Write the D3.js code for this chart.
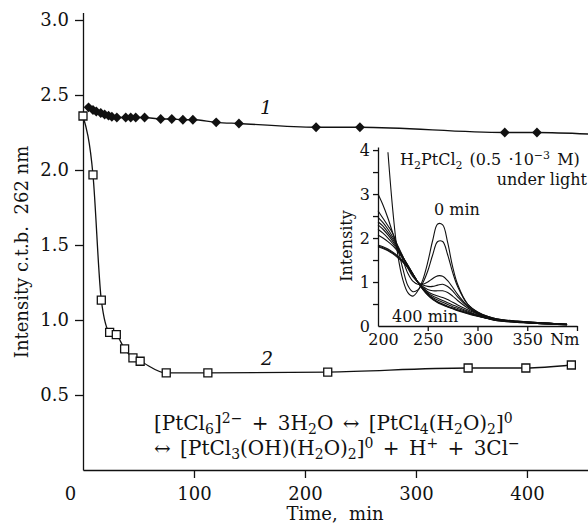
<!DOCTYPE html>
<meta charset="utf-8">
<style>
    body { margin: 0; background: #fff; }
    svg { display: block; }
    .line { fill: none; stroke: #111; stroke-width: 1.3px; }
    .spec { fill: none; stroke: #111; stroke-width: 1.1px; }
    text { font-family: "DejaVu Serif", serif; fill: #111; }
</style>
<body>
<script src="https://d3js.org/d3.v7.min.js"></script>
<script>
    // main chart: intensity at 262 nm vs time
    // series 1 (filled diamonds)
    var time1 = [5, 9, 12, 16, 19.5, 23, 26, 30.5, 38.5, 43, 47.5, 55.5, 70, 80, 90, 99, 120, 140.5, 210, 249.5, 380, 409];
    var val1 = [2.418, 2.40, 2.39, 2.38, 2.37, 2.362, 2.355, 2.35, 2.35, 2.35, 2.35, 2.35, 2.34, 2.34, 2.335, 2.335, 2.318, 2.31, 2.285, 2.285, 2.25, 2.25];
    var tail1 = [[455, 2.24]]; // line runs on to the end of the axis

    // series 2 (open squares)
    var time2 = [0, 9, 16.5, 24, 30, 37.5, 45, 51.5, 75, 112.5, 220.5, 347, 399, 440];
    var val2 = [2.36, 1.967, 1.133, 0.918, 0.902, 0.807, 0.747, 0.725, 0.647, 0.647, 0.653, 0.68, 0.68, 0.70];

    var xTicks = [0, 100, 200, 300, 400];
    var yTicks = [0.5, 1.0, 1.5, 2.0, 2.5, 3.0];

    // inset: spectra, wavelength grid (nm)
    var wl = [200, 205, 210, 215, 220, 225, 230, 235, 240, 245, 250, 255, 260, 265, 270, 275, 280, 290, 300, 310, 320, 340, 360, 390];
    var specA = [null, null, 3.95, 2.6, 1.6, 1.05, 0.76, 0.68, 0.8, 1.05, 1.45, 1.95, 2.32, 2.3, 1.9, 1.35, 0.95, 0.5, 0.32, 0.22, 0.16, 0.11, 0.08, 0.04];
    var specB = [3.0, 2.75, 2.45, 2.1, 1.75, 1.3, 0.92, 0.78, 0.82, 0.98, 1.25, 1.62, 1.92, 1.92, 1.62, 1.22, 0.9, 0.5, 0.32, 0.22, 0.16, 0.11, 0.08, 0.04];
    var specC = [2.62, 2.45, 2.28, 2.1, 1.8, 1.5, 1.2, 1.02, 0.95, 0.95, 1.0, 1.08, 1.14, 1.13, 1.03, 0.88, 0.72, 0.46, 0.3, 0.21, 0.15, 0.1, 0.07, 0.04];
    var specD = [2.47, 2.35, 2.2, 2.02, 1.82, 1.58, 1.32, 1.12, 1.0, 0.93, 0.9, 0.9, 0.93, 0.95, 0.9, 0.8, 0.66, 0.44, 0.29, 0.2, 0.15, 0.1, 0.07, 0.04];
    var specE = [2.37, 2.27, 2.13, 1.97, 1.78, 1.57, 1.36, 1.16, 1.0, 0.9, 0.83, 0.8, 0.8, 0.8, 0.76, 0.68, 0.58, 0.41, 0.28, 0.2, 0.14, 0.1, 0.07, 0.04];
    var specF = [2.3, 2.2, 2.07, 1.92, 1.75, 1.57, 1.38, 1.18, 1.0, 0.88, 0.78, 0.72, 0.68, 0.65, 0.6, 0.54, 0.48, 0.37, 0.27, 0.19, 0.14, 0.1, 0.07, 0.04];
    var specG = [2.2, 2.11, 2.0, 1.87, 1.72, 1.56, 1.38, 1.19, 1.0, 0.86, 0.75, 0.68, 0.63, 0.58, 0.53, 0.48, 0.43, 0.34, 0.25, 0.18, 0.13, 0.09, 0.06, 0.03];
    var specH = [2.07, 2.0, 1.92, 1.82, 1.69, 1.54, 1.37, 1.19, 1.0, 0.85, 0.73, 0.65, 0.59, 0.54, 0.49, 0.44, 0.4, 0.32, 0.24, 0.18, 0.13, 0.09, 0.06, 0.03];
    var specI = [1.84, 1.8, 1.75, 1.68, 1.59, 1.48, 1.34, 1.18, 1.0, 0.85, 0.72, 0.62, 0.55, 0.5, 0.45, 0.41, 0.37, 0.3, 0.23, 0.17, 0.13, 0.09, 0.06, 0.03];
    var specJ = [1.82, 1.78, 1.73, 1.66, 1.57, 1.46, 1.33, 1.17, 1.0, 0.84, 0.71, 0.61, 0.54, 0.49, 0.44, 0.4, 0.36, 0.29, 0.23, 0.17, 0.12, 0.09, 0.06, 0.03];
    var specK = [1.8, 1.76, 1.71, 1.64, 1.55, 1.45, 1.32, 1.16, 1.0, 0.83, 0.7, 0.6, 0.53, 0.48, 0.43, 0.39, 0.35, 0.28, 0.22, 0.17, 0.12, 0.08, 0.06, 0.03];
    var spectra = [specA, specB, specC, specD, specE, specF, specG, specH, specI, specJ, specK];

    var insetXTicks = [200, 250, 300, 350, 400];
    var insetXLabels = ["200", "250", "300", "350", "Nm"];
    var insetYTicks = [0, 0.5, 1, 1.5, 2, 2.5, 3, 3.5, 4];

    var W = 588, H = 526;
    var svg = d3.select("body").append("svg")
        .attr("width", W)
        .attr("height", H);

    // scales for the main plot
    var x = d3.scaleLinear().domain([0, 455]).range([83, 588]);
    var y = d3.scaleLinear().domain([0, 3.05]).range([470, 12.5]);

    // axes (font set after .call, the axis writes its own defaults)
    var gx = svg.append("g")
        .attr("transform", "translate(0," + y(0) + ")")
        .call(d3.axisBottom(x).tickValues(xTicks).tickSize(8).tickSizeOuter(0).tickPadding(9))
        .attr("font-family", "DejaVu Serif")
        .attr("font-size", 18);
    gx.selectAll(".tick").filter(function (d) { return d === 0; }).select("line").remove();
    gx.selectAll(".tick text").filter(function (d) { return d === 0; }).attr("x", -13);

    var gy = svg.append("g")
        .attr("transform", "translate(" + x(0) + ",0)")
        .call(d3.axisLeft(y).tickValues(yTicks).tickFormat(d3.format(".1f")).tickSize(8).tickSizeOuter(0).tickPadding(6))
        .attr("font-family", "DejaVu Serif")
        .attr("font-size", 18);

    // axis titles
    svg.append("text")
        .attr("x", 335).attr("y", 520)
        .attr("text-anchor", "middle")
        .attr("font-size", 18)
        .style("white-space", "pre")
        .text("Time,  min");

    svg.append("text")
        .attr("transform", "translate(28,252) rotate(-90)")
        .attr("text-anchor", "middle")
        .attr("font-size", 18)
        .style("white-space", "pre")
        .text("Intensity c.t.b.  262 nm");

    // lines
    var pts1 = time1.map(function (t, i) { return [t, val1[i]]; });
    var pts2 = time2.map(function (t, i) { return [t, val2[i]]; });

    var valueline = d3.line()
        .x(function (d) { return x(d[0]); })
        .y(function (d) { return y(d[1]); })
        .curve(d3.curveMonotoneX);

    svg.append("path").datum(pts1.concat(tail1)).attr("class", "line").attr("d", valueline);
    svg.append("path").datum(pts2).attr("class", "line").attr("d", valueline);

    // markers
    svg.selectAll(".dia")
        .data(pts1)
        .enter().append("path")
        .attr("class", "dia")
        .attr("d", d3.symbol(d3.symbolSquare, 48))
        .attr("transform", function (d) { return "translate(" + x(d[0]) + "," + y(d[1]) + ") rotate(45)"; })
        .attr("fill", "#111");

    svg.selectAll(".sq")
        .data(pts2)
        .enter().append("path")
        .attr("class", "sq")
        .attr("d", d3.symbol(d3.symbolSquare, 64))
        .attr("transform", function (d) { return "translate(" + x(d[0]) + "," + y(d[1]) + ")"; })
        .attr("fill", "#fff")
        .attr("stroke", "#111")
        .attr("stroke-width", 1.3);

    // curve labels
    svg.append("text").attr("x", 266).attr("y", 114).attr("text-anchor", "middle")
        .attr("font-size", 19).attr("font-style", "italic").text("1");
    svg.append("text").attr("x", 267).attr("y", 365).attr("text-anchor", "middle")
        .attr("font-size", 19).attr("font-style", "italic").text("2");

    // text with sub / superscripts
    function rich(sel, parts, size) {
        var off = 0;
        sel.attr("font-size", size);
        parts.forEach(function (p) {
            var target = p[1] === "sub" ? Math.round(size * 0.22) : p[1] === "sup" ? -Math.round(size * 0.36) : 0;
            sel.append("tspan")
                .attr("dy", target - off)
                .attr("font-size", p[1] ? Math.round(size * 0.7) : size)
                .text(p[0]);
            off = target;
        });
    }

    var eq1 = svg.append("text").attr("x", 154).attr("y", 430)
        .attr("word-spacing", 3).style("white-space", "pre");
    rich(eq1, [["[PtCl", ""], ["6", "sub"], ["]", ""], ["2−", "sup"], [" + 3H", ""], ["2", "sub"],
        ["O ↔ [PtCl", ""], ["4", "sub"], ["(H", ""], ["2", "sub"], ["O)", ""], ["2", "sub"], ["]", ""], ["0", "sup"]], 20);
    var eq2 = svg.append("text").attr("x", 154).attr("y", 455)
        .attr("word-spacing", 3).style("white-space", "pre");
    rich(eq2, [["↔ [PtCl", ""], ["3", "sub"], ["(OH)(H", ""], ["2", "sub"], ["O)", ""], ["2", "sub"], ["]", ""],
        ["0", "sup"], [" + H", ""], ["+", "sup"], [" + 3Cl", ""], ["−", "sup"]], 20);

    // ---- inset ----
    var xi = d3.scaleLinear().domain([200, 400]).range([378, 577]);
    var yi = d3.scaleLinear().domain([0, 4.07]).range([326, 147]);

    var gxi = svg.append("g")
        .attr("transform", "translate(0," + yi(0) + ")")
        .call(d3.axisBottom(xi).tickValues(insetXTicks)
            .tickFormat(function (d, i) { return insetXLabels[i]; })
            .tickSize(5).tickSizeOuter(0).tickPadding(3))
        .attr("font-family", "DejaVu Serif")
        .attr("font-size", 16);
    gxi.selectAll(".tick").filter(function (d) { return d === 200; }).select("line").remove();
    gxi.selectAll(".tick text").filter(function (d) { return d === 200; }).attr("x", 5);
    gxi.selectAll(".tick text").filter(function (d) { return d === 400; }).attr("text-anchor", "end").attr("x", 2);

    var gyi = svg.append("g")
        .attr("transform", "translate(" + xi(200) + ",0)")
        .call(d3.axisLeft(yi).tickValues(insetYTicks)
            .tickFormat(function (d) { return d % 1 === 0 ? d : ""; })
            .tickSize(5).tickSizeOuter(0).tickPadding(3))
        .attr("font-family", "DejaVu Serif")
        .attr("font-size", 16);
    gyi.selectAll(".tick").filter(function (d) { return d === 0; }).select("line").remove();

    svg.selectAll(".domain, .tick line").attr("stroke", "#111").attr("stroke-width", 1.3);
    svg.selectAll(".tick text").attr("fill", "#111");

    svg.append("text")
        .attr("transform", "translate(352,246) rotate(-90)")
        .attr("text-anchor", "middle")
        .attr("font-size", 16)
        .text("Intensity");

    var specline = d3.line()
        .defined(function (d) { return d[1] != null; })
        .x(function (d) { return xi(d[0]); })
        .y(function (d) { return yi(d[1]); })
        .curve(d3.curveCatmullRom);

    svg.selectAll(".spec")
        .data(spectra)
        .enter().append("path")
        .attr("class", "spec")
        .attr("d", function (s) { return specline(wl.map(function (w, i) { return [w, s[i]]; })); });

    var ttl = svg.append("text").attr("x", 400).attr("y", 165)
        .attr("word-spacing", 2).style("white-space", "pre");
    rich(ttl, [["H", ""], ["2", "sub"], ["PtCl", ""], ["2", "sub"], [" (0.5 ·10", ""], ["−3", "sup"], [" M)", ""]], 16);
    svg.append("text").attr("x", 587).attr("y", 185).attr("text-anchor", "end").attr("font-size", 16).text("under light");
    svg.append("text").attr("x", 457).attr("y", 215).attr("text-anchor", "middle").attr("font-size", 16).text("0 min");
    svg.append("text").attr("x", 392).attr("y", 322).attr("font-size", 16).text("400 min");
</script>
</body>
